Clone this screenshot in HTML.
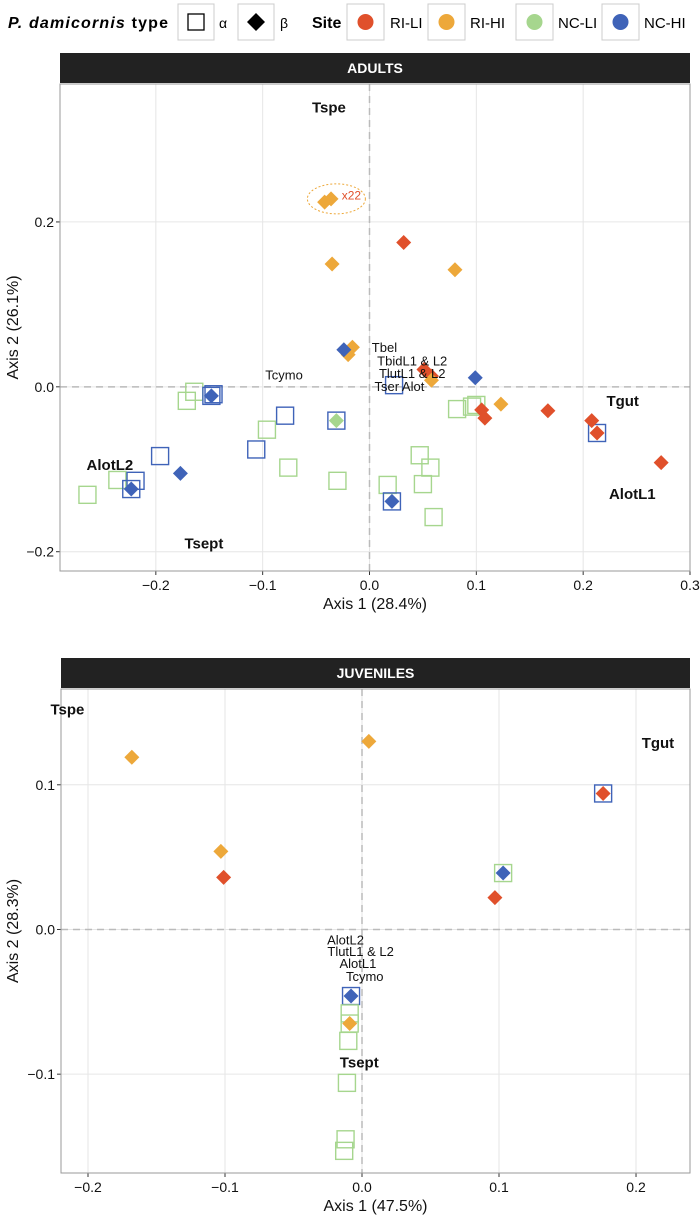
<!DOCTYPE html>
<html><head><meta charset="utf-8"><style>
html,body{margin:0;padding:0;background:#fff;}
svg{display:block;font-family:"Liberation Sans",sans-serif;}
</style></head><body>
<svg id="fig" width="700" height="1220" viewBox="0 0 700 1220">
<g id="legend">
  <text x="8" y="28" font-size="16" font-weight="bold" textLength="160"><tspan font-style="italic">P. damicornis</tspan> type</text>
  <rect x="178" y="4" width="36" height="36" fill="#fff" stroke="#ccc"/>
  <rect x="188" y="14" width="16" height="16" fill="none" stroke="#000" stroke-width="1.3"/>
  <text x="219" y="28" font-size="14">α</text>
  <rect x="238" y="4" width="36" height="36" fill="#fff" stroke="#ccc"/>
  <polygon points="256,13 265,22 256,31 247,22" fill="#000"/>
  <text x="280" y="28" font-size="14">β</text>
  <text x="312" y="28" font-size="16" font-weight="bold">Site</text>
  <rect x="347" y="4" width="37" height="36" fill="#fff" stroke="#ccc"/>
  <circle cx="365.5" cy="22" r="8" fill="#E0502B"/>
  <text x="390" y="28" font-size="15">RI-LI</text>
  <rect x="428" y="4" width="37" height="36" fill="#fff" stroke="#ccc"/>
  <circle cx="446.5" cy="22" r="8" fill="#EDA83A"/>
  <text x="470" y="28" font-size="15">RI-HI</text>
  <rect x="516" y="4" width="37" height="36" fill="#fff" stroke="#ccc"/>
  <circle cx="534.5" cy="22" r="8" fill="#A6D68E"/>
  <text x="558" y="28" font-size="15">NC-LI</text>
  <rect x="602" y="4" width="37" height="36" fill="#fff" stroke="#ccc"/>
  <circle cx="620.5" cy="22" r="8" fill="#3F63B8"/>
  <text x="644" y="28" font-size="15">NC-HI</text>
</g>
<g id="adults"></g>
<g id="juv"></g>
</svg>
<script>
const SITE_COLORS = {"RI-LI":"#E0502B","RI-HI":"#EDA83A","NC-LI":"#A6D68E","NC-HI":"#3F63B8"};

// ADULTS data
const adultX = [-0.042,-0.036,0.032,-0.035,0.080,-0.020,-0.016,-0.024,0.051,0.058,0.058,0.023,0.099,0.082,0.096,0.100,0.123,0.105,0.108,0.167,0.208,0.213,0.213,0.273,-0.164,-0.171,-0.148,-0.146,-0.148,-0.079,-0.096,-0.106,-0.076,-0.031,-0.031,-0.030,-0.196,-0.177,-0.236,-0.219,-0.223,-0.223,-0.264,0.047,0.057,0.017,0.050,0.021,0.021,0.060];
const adultY = [0.224,0.228,0.175,0.149,0.142,0.039,0.048,0.045,0.021,0.013,0.008,0.002,0.011,-0.027,-0.024,-0.022,-0.021,-0.028,-0.038,-0.029,-0.041,-0.056,-0.056,-0.092,-0.006,-0.017,-0.011,-0.009,-0.011,-0.035,-0.052,-0.076,-0.098,-0.041,-0.041,-0.114,-0.084,-0.105,-0.113,-0.114,-0.124,-0.124,-0.131,-0.083,-0.098,-0.119,-0.118,-0.139,-0.139,-0.158];
const adultSite = ["RI-HI","RI-HI","RI-LI","RI-HI","RI-HI","RI-HI","RI-HI","NC-HI","RI-LI","RI-LI","RI-HI","NC-HI","NC-HI","NC-LI","NC-LI","NC-LI","RI-HI","RI-LI","RI-LI","RI-LI","RI-LI","NC-HI","RI-LI","RI-LI","NC-LI","NC-LI","NC-HI","NC-HI","NC-HI","NC-HI","NC-LI","NC-HI","NC-LI","NC-HI","NC-LI","NC-LI","NC-HI","NC-HI","NC-LI","NC-HI","NC-HI","NC-HI","NC-LI","NC-LI","NC-LI","NC-LI","NC-LI","NC-HI","NC-HI","NC-LI"];
const adultType = ["b","b","b","b","b","b","b","b","b","b","b","a","b","a","a","a","b","b","b","b","b","a","b","b","a","a","a","a","b","a","a","a","a","a","b","a","a","b","a","a","a","b","a","a","a","a","a","a","b","a"];
const adultLabels = ["Tspe","Tgut","AlotL1","AlotL2","Tsept","Tbel","TbidL1 & L2","TlutL1 & L2","Tser Alot","Tcymo"];
const adultLabelX = [-0.038,0.237,0.246,-0.243,-0.155,0.014,0.040,0.040,0.028,-0.080];
const adultLabelY = [0.339,-0.017,-0.130,-0.095,-0.190,0.048,0.032,0.017,0.001,0.015];
const adultLabelBold = [1,1,1,1,1,0,0,0,0,0];
const adultXTicks = [-0.2,-0.1,0.0,0.1,0.2,0.3];
const adultXTickLabels = ["\u22120.2","\u22120.1","0.0","0.1","0.2","0.3"];
const adultYTicks = [-0.2,0.0,0.2];
const adultYTickLabels = ["\u22120.2","0.0","0.2"];

// JUVENILES data
const juvX = [-0.168,-0.103,-0.101,0.005,0.176,0.176,0.103,0.103,0.097,-0.008,-0.008,-0.009,-0.009,-0.009,-0.010,-0.011,-0.012,-0.013];
const juvY = [0.119,0.054,0.036,0.130,0.094,0.094,0.039,0.039,0.022,-0.046,-0.046,-0.058,-0.065,-0.065,-0.077,-0.106,-0.145,-0.153];
const juvSite = ["RI-HI","RI-HI","RI-LI","RI-HI","NC-HI","RI-LI","NC-LI","NC-HI","RI-LI","NC-HI","NC-HI","NC-LI","NC-LI","RI-HI","NC-LI","NC-LI","NC-LI","NC-LI"];
const juvType = ["b","b","b","b","a","b","a","b","b","a","b","a","a","b","a","a","a","a"];
const juvLabels = ["Tspe","Tgut","AlotL2","TlutL1 & L2","AlotL1","Tcymo","Tsept"];
const juvLabelX = [-0.215,0.216,-0.012,-0.001,-0.003,0.002,-0.002];
const juvLabelY = [0.152,0.129,-0.007,-0.015,-0.023,-0.032,-0.092];
const juvLabelBold = [1,1,0,0,0,0,1];
const juvXTicks = [-0.2,-0.1,0.0,0.1,0.2];
const juvXTickLabels = ["\u22120.2","\u22120.1","0.0","0.1","0.2"];
const juvYTicks = [-0.1,0.0,0.1];
const juvYTickLabels = ["\u22120.1","0.0","0.1"];

const NS = "http://www.w3.org/2000/svg";
function mk(parent, tag, attrs){ const e=document.createElementNS(NS,tag); for(const k in attrs) e.setAttribute(k,attrs[k]); parent.appendChild(e); return e; }

function panel(g, cfg){
  const L=cfg.left,R=cfg.right,T=cfg.top,B=cfg.bottom;
  const sx=v=>L+(v-cfg.xmin)/(cfg.xmax-cfg.xmin)*(R-L);
  const sy=v=>B-(v-cfg.ymin)/(cfg.ymax-cfg.ymin)*(B-T);
  const strip=mk(g,"rect",{x:L,y:T-31,width:R-L,height:30,fill:"#222"});
  
  
  const st=mk(g,"text",{x:(L+R)/2,y:T-11,"text-anchor":"middle","font-size":14,"font-weight":"bold",fill:"#fff"});
  st.textContent=cfg.title;
  
  
  cfg.xt.forEach((v,i)=>{
    const x=sx(v);
    if(x<R-1){ const gl=mk(g,"line",{x1:x,x2:x,y1:T,y2:B,stroke:"#e6e6e6","stroke-width":1});
      
       }
    mk(g,"line",{x1:x,x2:x,y1:B,y2:B+4,stroke:"#333","stroke-width":1});
    const t=mk(g,"text",{x:x,y:B+19,"text-anchor":"middle","font-size":14,fill:"#111"});
    t.textContent=cfg.xtl[i];
    
    
  });
  cfg.yt.forEach((v,i)=>{
    const y=sy(v);
    const gl=mk(g,"line",{x1:L,x2:R,y1:y,y2:y,stroke:"#e6e6e6","stroke-width":1});
    
    
    mk(g,"line",{x1:L-4,x2:L,y1:y,y2:y,stroke:"#333","stroke-width":1});
    const t=mk(g,"text",{x:L-6,y:y+5,"text-anchor":"end","font-size":14,fill:"#111"});
    t.textContent=cfg.ytl[i];
    
    
  });
  mk(g,"line",{x1:sx(0),x2:sx(0),y1:T,y2:B,stroke:"#bbb","stroke-width":1.5,"stroke-dasharray":"7,5"});
  mk(g,"line",{x1:L,x2:R,y1:sy(0),y2:sy(0),stroke:"#bbb","stroke-width":1.5,"stroke-dasharray":"7,5"});
  const border=mk(g,"rect",{x:L,y:T,width:R-L,height:B-T,fill:"none",stroke:"#999","stroke-width":1});
  
  
  ["a","b"].forEach(tp=>{
    cfg.px.forEach((v,i)=>{
      if(cfg.pt[i]!==tp) return;
      const x=sx(v),y=sy(cfg.py[i]),c=SITE_COLORS[cfg.ps[i]];
      let e;
      if(tp==="a"){ e=mk(g,"rect",{x:x-8.5,y:y-8.5,width:17,height:17,fill:"none",stroke:c,"stroke-width":1.4}); }
      else { e=mk(g,"polygon",{points:`${x},${y-7.5} ${x+7.5},${y} ${x},${y+7.5} ${x-7.5},${y}`,fill:c}); }
      
      
    });
  });
  cfg.lab.forEach((s,i)=>{
    const t=mk(g,"text",{x:sx(cfg.lx[i]),y:sy(cfg.ly[i])+5,"text-anchor":"middle","font-size":cfg.lb[i]?15:13,"font-weight":cfg.lb[i]?"bold":"normal",fill:"#111"});
    t.textContent=s;
    
    
  });
  const xt=mk(g,"text",{x:(L+R)/2,y:B+38,"text-anchor":"middle","font-size":16,fill:"#111"});
  xt.textContent=cfg.xlab;
  
  
  const yt=mk(g,"text",{x:0,y:0,"text-anchor":"middle","font-size":16,fill:"#111",transform:`translate(18,${(T+B)/2}) rotate(-90)`});
  yt.textContent=cfg.ylab;
  
  
  return {sx,sy};
}

const A=document.getElementById("adults");
const a=panel(A,{key:"adults",title:"ADULTS",left:60,right:690,top:84,bottom:571,xmin:-0.2897,xmax:0.3,ymin:-0.2234,ymax:0.3673,
  xt:adultXTicks,xtl:adultXTickLabels,yt:adultYTicks,ytl:adultYTickLabels,px:adultX,py:adultY,ps:adultSite,pt:adultType,
  lab:adultLabels,lx:adultLabelX,ly:adultLabelY,lb:adultLabelBold,xlab:"Axis 1 (28.4%)",ylab:"Axis 2 (26.1%)"});
const ell=mk(A,"ellipse",{cx:a.sx(-0.031),cy:a.sy(0.228),rx:29,ry:15,fill:"none",stroke:"#EDA83A","stroke-width":1,"stroke-dasharray":"2,2"});


const x22=mk(A,"text",{x:a.sx(-0.026),y:a.sy(0.232)+4,"font-size":12,fill:"#E0502B"});
x22.textContent="x22";



const J=document.getElementById("juv");
panel(J,{key:"juveniles",title:"JUVENILES",left:61,right:690,top:689,bottom:1173,xmin:-0.2197,xmax:0.2394,ymin:-0.1683,ymax:0.1662,
  xt:juvXTicks,xtl:juvXTickLabels,yt:juvYTicks,ytl:juvYTickLabels,px:juvX,py:juvY,ps:juvSite,pt:juvType,
  lab:juvLabels,lx:juvLabelX,ly:juvLabelY,lb:juvLabelBold,xlab:"Axis 1 (47.5%)",ylab:"Axis 2 (28.3%)"});
</script>
</body></html>
